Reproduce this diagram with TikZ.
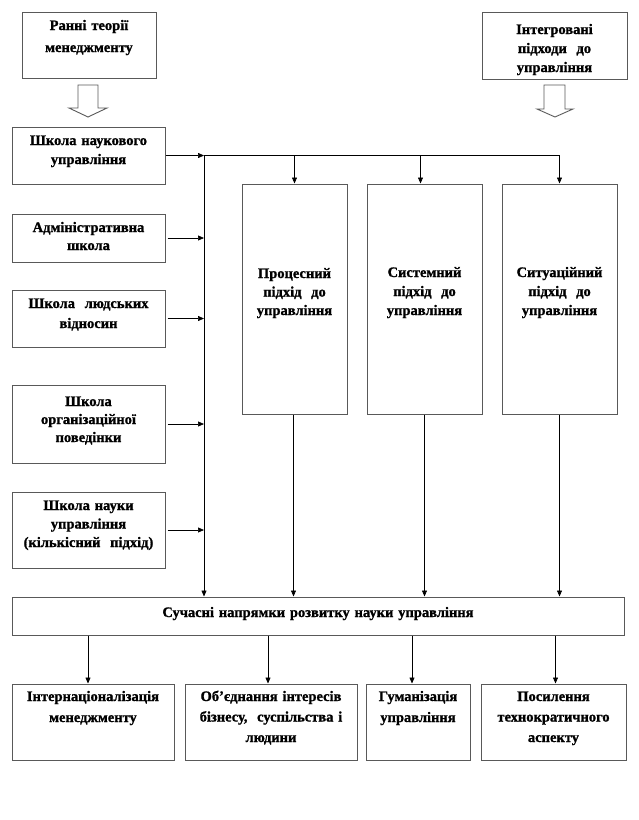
\documentclass[tikz,border=0pt]{standalone}
\usepackage{fontspec}
\setmainfont{Liberation Serif}[BoldFeatures={FakeBold=1.2}]
\usetikzlibrary{arrows.meta,fit}
\tikzset{
  box/.style={draw=black!65, line width=1pt, inner sep=0pt, fill=white},
  txt/.style={anchor=base, inner sep=0pt, text width=400pt, align=center},
  arr/.style={-{Triangle[length=6pt,width=5pt]}, line width=0.7pt, black},
  ln/.style={line width=0.7pt, black},
  hollow/.style={draw=black!65, line width=0.9pt, fill=white},
}
\newcommand\mkbox[8]{%
  \node[box, fit={(#2,#3)(#4,#5)}] (#1) {};
  \node[txt, font=\fontsize{14.5pt}{#7pt}\selectfont\bfseries] (#1t) at ({(#2+#4)/2},#6) {#8};
}
\newcommand\dsp{\ \ }
\begin{document}
\begin{tikzpicture}[x=1pt,y=-1pt]
\useasboundingbox (0,0) rectangle (638,820);
% top boxes
\mkbox{TL}{22}{12}{156}{78}{30}{22}{Ранні теорії\\менеджменту}
\mkbox{TR}{482}{12}{627}{79}{34}{19}{Інтегровані\\підходи\dsp до\\управління}
% hollow arrows
\draw[hollow] (78,85) -- (98,85) -- (98,108) -- (107,108) -- (88,117) -- (69,108) -- (78,108) -- cycle;
\draw[hollow] (544,85) -- (565,85) -- (565,109) -- (573,109) -- (555,117) -- (537,109) -- (544,109) -- cycle;
% left boxes
\mkbox{L1}{12}{127}{165}{184}{145}{19}{Школа наукового\\управління}
\mkbox{L2}{12}{214}{165}{262}{232}{18}{Адміністративна\\школа}
\mkbox{L3}{12}{290}{165}{347}{308}{20}{Школа\dsp людських\\відносин}
\mkbox{L4}{12}{385}{165}{463}{406}{18}{Школа\\організаційної\\поведінки}
\mkbox{L5}{12}{492}{165}{568}{510}{18.5}{Школа науки\\управління\\(кількісний\dsp підхід)}
% tall boxes
\mkbox{T1}{242}{184}{347}{414}{278}{18.5}{Процесний\\підхід\dsp до\\управління}
\mkbox{T2}{367}{184}{482}{414}{277}{19}{Системний\\підхід\dsp до\\управління}
\mkbox{T3}{502}{184}{617}{414}{277}{19}{Ситуаційний\\підхід\dsp до\\управління}
% bottom
\mkbox{B}{12}{597}{624}{635}{617}{20}{Сучасні напрямки розвитку науки управління}
\mkbox{D1}{12}{684}{174}{760}{701}{21}{Інтернаціоналізація\\менеджменту}
\mkbox{D2}{185}{684}{357}{760}{701}{20.5}{Об’єднання інтересів\\бізнесу,\dsp суспільства і\\людини}
\mkbox{D3}{366}{684}{470}{760}{701}{21}{Гуманізація\\управління}
\mkbox{D4}{481}{684}{626}{760}{701}{20.5}{Посилення\\технократичного\\аспекту}
% connectors
\coordinate (busx) at (204,0);
\draw[arr] (L1.east) -- (L1.east -| busx);
\draw[ln] (L1.east -| busx) -- (L1.east -| T3.north);
\draw[arr] (L1.east -| T1.north) -- (T1.north);
\draw[arr] ([xshift=-4pt]L1.east -| T2.north) -- ([xshift=-4pt]T2.north);
\draw[arr] (L1.east -| T3.north) -- (T3.north);
\draw[arr] (L1.east -| busx) -- (busx |- B.north);
\foreach \n in {L2,L3,L4,L5} {
  \draw[arr] ([xshift=2pt]\n.east) -- (\n.east -| busx);
}
\draw[arr] ([xshift=-1pt]T1.south) -- ([xshift=-1pt]T1.south |- B.north);
\draw[arr] (T2.south) -- (T2.south |- B.north);
\draw[arr] (T3.south) -- (T3.south |- B.north);
\draw[arr] ([xshift=-5pt]D1.north |- B.south) -- ([xshift=-5pt]D1.north);
\draw[arr] ([xshift=-3pt]D2.north |- B.south) -- ([xshift=-3pt]D2.north);
\draw[arr] ([xshift=-6pt]D3.north |- B.south) -- ([xshift=-6pt]D3.north);
\draw[arr] ([xshift=2pt]D4.north |- B.south) -- ([xshift=2pt]D4.north);
\end{tikzpicture}
\end{document}
